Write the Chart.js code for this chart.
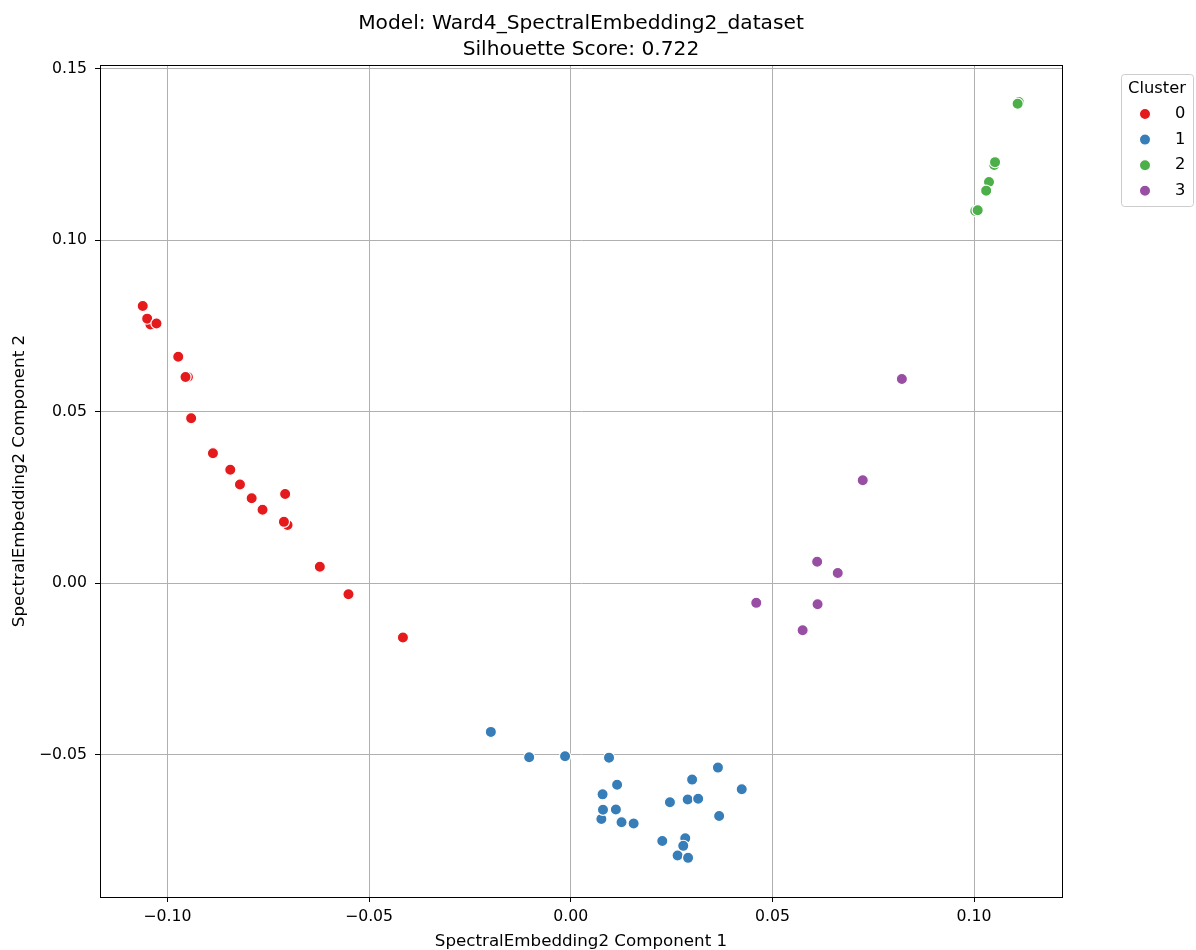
<!DOCTYPE html>
<html>
<head>
<meta charset="utf-8">
<script src="https://cdn.jsdelivr.net/npm/chart.js@4"></script>
<style>
  body { margin: 0; background: #fff; }
</style>
</head>
<body>
<canvas id="chart" width="1196" height="950"></canvas>
<script>
// cluster points, [x, y]
const cluster0 = [
  [-0.1061, 0.0808], [-0.1042, 0.0754], [-0.1050, 0.0771], [-0.1027, 0.0757],
  [-0.0973, 0.0660], [-0.0949, 0.0601], [-0.0955, 0.0601], [-0.0941, 0.0481],
  [-0.0887, 0.0379], [-0.0844, 0.0331], [-0.0820, 0.0288], [-0.0791, 0.0248],
  [-0.0764, 0.0214], [-0.0708, 0.0260], [-0.0702, 0.0170], [-0.0711, 0.0179],
  [-0.0622, 0.0048], [-0.0551, -0.0032], [-0.0416, -0.0158]
];
const cluster1 = [
  [-0.0198, -0.0433], [-0.0103, -0.0507], [-0.0014, -0.0504], [0.0095, -0.0508],
  [0.0115, -0.0587], [0.0079, -0.0615], [0.0076, -0.0687], [0.0080, -0.0660],
  [0.0112, -0.0659], [0.0126, -0.0696], [0.0156, -0.0700], [0.0227, -0.0751],
  [0.0284, -0.0743], [0.0279, -0.0765], [0.0265, -0.0793], [0.0291, -0.0800],
  [0.0246, -0.0638], [0.0290, -0.0630], [0.0316, -0.0628], [0.0301, -0.0572],
  [0.0365, -0.0537], [0.0368, -0.0678], [0.0424, -0.0600]
];
const cluster2 = [
  [0.1111, 0.1402], [0.1108, 0.1397], [0.1050, 0.1219], [0.1052, 0.1227],
  [0.1037, 0.1169], [0.1030, 0.1144], [0.1003, 0.1085], [0.1009, 0.1087]
];
const cluster3 = [
  [0.0821, 0.0595], [0.0724, 0.0300], [0.0611, 0.0063], [0.0662, 0.0030],
  [0.0460, -0.0057], [0.0612, -0.0061], [0.0575, -0.0137]
];

const clusterNames = ["0", "1", "2", "3"];
const clusterColors = ["#e41a1c", "#377eb8", "#4daf4a", "#984ea3"];
const clusterPoints = [cluster0, cluster1, cluster2, cluster3];

const xTicks = [-0.10, -0.05, 0.00, 0.05, 0.10];
const yTicks = [-0.05, 0.00, 0.05, 0.10, 0.15];

const FONT = "'DejaVu Sans', sans-serif";
const fmt = v => v.toFixed(2).replace("-", "\u2212");

// matplotlib-style frame round the axes
const spines = {
  id: "spines",
  afterDraw(chart) {
    const { ctx, chartArea: a } = chart;
    ctx.save();
    ctx.strokeStyle = "#000";
    ctx.lineWidth = 1;
    ctx.strokeRect(Math.round(a.left) + 0.5, Math.round(a.top) + 0.5,
      Math.round(a.right - a.left), Math.round(a.bottom - a.top));
    ctx.restore();
  }
};

// legend outside the axes, top right
const sideLegend = {
  id: "sideLegend",
  afterDraw(chart) {
    const { ctx } = chart;
    const a = chart.chartArea;
    const x0 = a.right + 59, y0 = a.top + 9, w = 72, h = 132;
    ctx.save();
    ctx.fillStyle = "rgba(255,255,255,0.8)";
    ctx.strokeStyle = "#cccccc";
    ctx.lineWidth = 1;
    ctx.beginPath();
    ctx.roundRect(x0 + 0.5, y0 + 0.5, w, h, 3);
    ctx.fill();
    ctx.stroke();
    ctx.fillStyle = "#000";
    ctx.font = "16.3px " + FONT;
    ctx.textAlign = "center";
    ctx.textBaseline = "middle";
    ctx.fillText("Cluster", x0 + 36, y0 + 14.5);
    chart.data.datasets.forEach((ds, i) => {
      const cy = y0 + 40 + i * 25.6;
      ctx.beginPath();
      ctx.arc(x0 + 24, cy, 5.6, 0, Math.PI * 2);
      ctx.fillStyle = ds.backgroundColor;
      ctx.fill();
      ctx.strokeStyle = "#fff";
      ctx.lineWidth = 1.2;
      ctx.stroke();
      ctx.fillStyle = "#000";
      ctx.textAlign = "left";
      ctx.fillText(ds.label, x0 + 54, cy);
    });
    ctx.restore();
  }
};

new Chart(document.getElementById("chart"), {
  type: "scatter",
  data: {
    datasets: clusterPoints.map((pts, i) => ({
      label: clusterNames[i],
      data: pts.map(p => ({ x: p[0], y: p[1] })),
      backgroundColor: clusterColors[i],
      borderColor: "#ffffff",
      borderWidth: 1.2,
      pointRadius: 5.6,
      pointHoverRadius: 5.6,
    })),
  },
  options: {
    responsive: false,
    animation: false,
    events: [],
    layout: { autoPadding: false, padding: { right: 134 } },
    plugins: {
      legend: { display: false },
      tooltip: { enabled: false },
      title: {
        display: true,
        fullSize: false,
        text: ["Model: Ward4_SpectralEmbedding2_dataset", "Silhouette Score: 0.722"],
        color: "#000",
        font: { family: FONT, size: 20.2, weight: "normal", lineHeight: 1.26 },
        padding: { top: 11.5, bottom: 2.6 },
      },
    },
    scales: {
      x: {
        type: "linear",
        min: -0.1167,
        max: 0.1218,
        afterBuildTicks: s => { s.ticks = xTicks.map(v => ({ value: v })); },
        afterFit: s => { s.height = 53; },
        ticks: { callback: v => fmt(v), color: "#000", font: { family: FONT, size: 15.7 }, padding: 6, maxRotation: 0 },
        grid: { color: "#b0b0b0", lineWidth: 1, tickColor: "#000", tickLength: 5, tickWidth: 1 },
        border: { color: "#000", width: 1 },
        title: {
          display: true,
          text: "SpectralEmbedding2 Component 1",
          color: "#000",
          font: { family: FONT, size: 16.7, lineHeight: 1.0 },
          padding: { top: 0, bottom: 0 },
        },
      },
      y: {
        type: "linear",
        min: -0.0914,
        max: 0.1510,
        afterBuildTicks: s => { s.ticks = yTicks.map(v => ({ value: v })); },
        afterFit: s => { s.width = 100; },
        ticks: { callback: v => fmt(v), color: "#000", font: { family: FONT, size: 15.7 }, padding: 8 },
        grid: { color: "#b0b0b0", lineWidth: 1, tickColor: "#000", tickLength: 5, tickWidth: 1 },
        border: { color: "#000", width: 1 },
        title: {
          display: true,
          text: "SpectralEmbedding2 Component 2",
          color: "#000",
          font: { family: FONT, size: 16.7, lineHeight: 1.2 },
          padding: { top: 10, bottom: 0 },
        },
      },
    },
  },
  plugins: [spines, sideLegend],
});
</script>
</body>
</html>
